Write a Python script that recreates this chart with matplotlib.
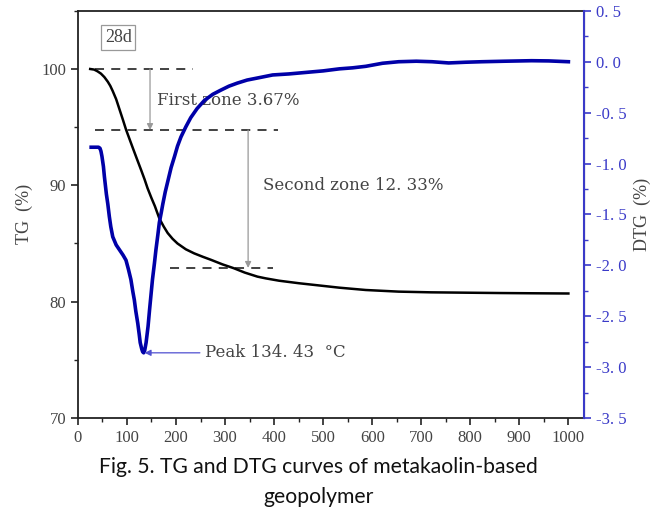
import matplotlib.pyplot as plt
from matplotlib.ticker import MultipleLocator

# TG curve (%)
tg_temp = [25, 33, 40, 47, 54, 61, 66, 71, 78, 85, 92, 98, 105, 112, 120, 129, 136, 142, 150, 157,
           166, 175, 183, 193, 203, 220, 237, 255, 271, 295, 318, 340, 366, 383, 410, 451, 490, 533,
           587, 654, 720, 790, 860, 925, 1000]
tg_val = [100.0, 99.95, 99.8, 99.6, 99.3, 98.9, 98.55, 98.1, 97.4, 96.5, 95.6, 94.8, 94.0, 93.2, 92.3,
          91.3, 90.5, 89.75, 88.9, 88.2, 87.15, 86.45, 85.9, 85.4, 85.0, 84.5, 84.15, 83.85, 83.6, 83.2,
          82.87, 82.5, 82.15, 82.0, 81.8, 81.58, 81.4, 81.2, 81.0, 80.86, 80.8, 80.77, 80.74, 80.72, 80.7]

# DTG curve (%/°C)
dtg_temp = [27, 35, 42, 45, 47, 49, 52, 54, 58, 61, 64, 67, 71, 78, 85, 92, 98, 103, 108, 112, 115, 118,
            122, 125, 127, 130, 132, 134, 136, 139, 143, 146, 149, 152, 156, 159, 163, 166, 170, 173,
            178, 183, 190, 197, 203, 210, 220, 230, 243, 258, 275, 291, 308, 325, 345, 366, 397, 430,
            465, 500, 533, 560, 587, 621, 654, 690, 722, 756, 790, 824, 870, 925, 960, 1000]
dtg_val = [-0.84, -0.84, -0.84, -0.85, -0.88, -0.93, -1.03, -1.13, -1.3, -1.4, -1.52, -1.62, -1.72, -1.8,
           -1.85, -1.9, -1.95, -2.04, -2.14, -2.26, -2.34, -2.45, -2.57, -2.68, -2.76, -2.82, -2.85, -2.86,
           -2.84, -2.76, -2.6, -2.44, -2.29, -2.14, -1.98, -1.85, -1.7, -1.58, -1.48, -1.40, -1.28, -1.18,
           -1.04, -0.93, -0.83, -0.74, -0.64, -0.55, -0.46, -0.38, -0.32, -0.28, -0.24, -0.21, -0.18,
           -0.16, -0.13, -0.12, -0.105, -0.09, -0.07, -0.06, -0.045, -0.015, 0.0, 0.005, 0.0, -0.012,
           -0.005, 0.0, 0.005, 0.01, 0.008, 0.0]

x_ticks = [0, 100, 200, 300, 400, 500, 600, 700, 800, 900, 1000]
tg_ticks = [70, 80, 90, 100]
dtg_ticks = [0.5, 0.0, -0.5, -1.0, -1.5, -2.0, -2.5, -3.0, -3.5]
dtg_labels = ['0. 5', '0. 0', '-0. 5', '-1. 0', '-1. 5', '-2. 0', '-2. 5', '-3. 0', '-3. 5']

zone_levels = [100.0, 94.75, 82.9]
peak_temp = 133
peak_dtg = -2.86

serif = ['Liberation Serif', 'DejaVu Serif']
wide_serif = ['DejaVu Serif']
grey = '#444444'
blue_axis = '#3a3ac8'

fig = plt.figure(figsize=(6.66, 5.16), dpi=100)
ax = fig.add_axes([0.117, 0.19, 0.76, 0.789])
ax2 = ax.twinx()

ax.plot(tg_temp, tg_val, color='black', lw=1.8, zorder=3, solid_joinstyle='round')
ax2.plot(dtg_temp, dtg_val, color='#0000a8', lw=2.6, zorder=3, solid_joinstyle='round')

ax.set_xlim(0, 1032)
ax.set_ylim(70, 105)
ax2.set_ylim(-3.5, 0.5)

# dashed reference levels
ax.plot([35, 235], [zone_levels[0]] * 2, ls=(0, (5, 4)), color='#333333', lw=1.3)
ax.plot([35, 408], [zone_levels[1]] * 2, ls=(0, (5, 4)), color='#333333', lw=1.3)
ax.plot([188, 398], [zone_levels[2]] * 2, ls=(0, (5, 4)), color='#333333', lw=1.3)

arr = dict(arrowstyle='-|>', color='#999999', lw=0.9, mutation_scale=9,
           shrinkA=0, shrinkB=0)
ax.annotate('', xy=(147, zone_levels[1]), xytext=(147, zone_levels[0]), arrowprops=arr)
ax.annotate('', xy=(347, zone_levels[2]), xytext=(347, zone_levels[1]), arrowprops=arr)

ax.text(161, 97.3, 'First zone 3.67%', family=wide_serif, fontsize=12, color=grey, va='center')
ax.text(377, 90.0, 'Second zone 12. 33%', family=wide_serif, fontsize=12, color=grey, va='center')
ax.text(55, 102.7, '28d', family=serif, fontsize=13, color=grey, va='center',
        bbox=dict(boxstyle='square,pad=0.2', fc='white', ec='#999999', lw=0.9))

ax2.annotate('Peak 134. 43  \u00b0C', xy=(peak_temp + 3, peak_dtg), xytext=(260, peak_dtg),
             family=wide_serif, fontsize=12, color=grey, va='center',
             arrowprops=dict(arrowstyle='-|>', color='#5050d0', lw=0.9, mutation_scale=9,
                             shrinkA=2, shrinkB=0))

# axes styling
ax.set_xticks(x_ticks)
ax.xaxis.set_minor_locator(MultipleLocator(50))
ax.set_yticks(tg_ticks)
ax.yaxis.set_minor_locator(MultipleLocator(5))
ax2.set_yticks(dtg_ticks)
ax2.set_yticklabels(dtg_labels)
ax2.yaxis.set_minor_locator(MultipleLocator(0.25))

for lab in ax.get_xticklabels() + ax.get_yticklabels():
    lab.set_family(serif)
    lab.set_fontsize(12)
    lab.set_color(grey)
for lab in ax2.get_yticklabels():
    lab.set_family(serif)
    lab.set_fontsize(12)
    lab.set_color(blue_axis)

ax.tick_params(which='major', length=5, width=1.2, color='#222222', direction='out')
ax.tick_params(which='minor', length=3, width=1.0, color='#222222', direction='out')
ax2.tick_params(which='major', length=5, width=1.2, color=blue_axis, direction='out')
ax2.tick_params(which='minor', length=3, width=1.0, color=blue_axis, direction='out')

for s in ['left', 'bottom', 'top']:
    ax.spines[s].set_linewidth(1.3)
    ax.spines[s].set_color('#222222')
ax2.spines['right'].set_color(blue_axis)
ax2.spines['right'].set_linewidth(1.5)
ax2.spines['left'].set_visible(False)
ax2.spines['top'].set_visible(False)
ax2.spines['bottom'].set_visible(False)

ax.set_ylabel('TG  (%)', family=serif, fontsize=13, color=grey, labelpad=6)
ax2.set_ylabel('DTG  (%)', family=serif, fontsize=13, color=grey, rotation=90, labelpad=5)

fig.text(0.478, 0.095, 'Fig. 5. TG and DTG curves of metakaolin-based', family=['Lato', 'DejaVu Sans'],
         fontsize=15.2, ha='center', va='center', color='#111111')
fig.text(0.478, 0.037, 'geopolymer', family=['Lato', 'DejaVu Sans'],
         fontsize=15.2, ha='center', va='center', color='#111111')

fig.savefig('out.png', dpi=100)
